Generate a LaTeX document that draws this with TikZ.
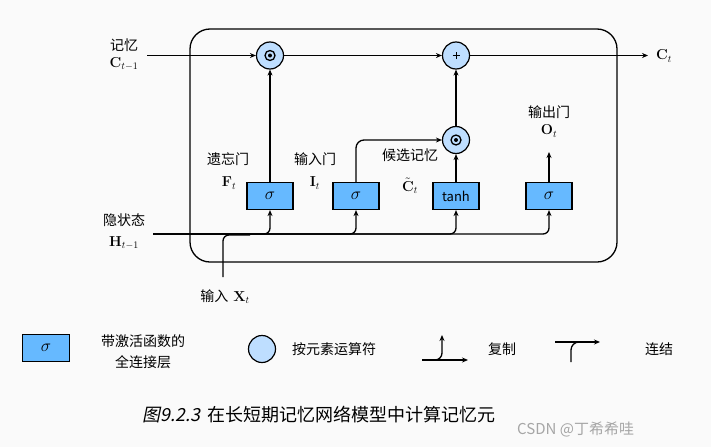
\documentclass[tikz,border=0pt]{standalone}
\usepackage[no-math]{fontspec}
\setmainfont{Noto Sans CJK SC}
\newfontfamily\capit[FakeSlant=0.2]{Noto Sans CJK SC}
\usetikzlibrary{arrows.meta}
\definecolor{gatefill}{RGB}{102,185,255}
\definecolor{opfill}{RGB}{190,222,255}
\definecolor{paper}{RGB}{250,250,250}
\tikzset{
	gate/.style={draw, line width=1.2pt, fill=gatefill, minimum width=46pt, minimum height=27pt, inner sep=0pt, font=\fontsize{16}{16}\selectfont},
	op/.style={draw, circle, line width=1.2pt, fill=opfill, minimum size=27pt, inner sep=0pt},
	opdot/.style={op, path picture={
		\draw[line width=1.3pt] (path picture bounding box.center) circle (5pt);
		\fill[black] (path picture bounding box.center) circle (2pt);}},
	opplus/.style={op, path picture={
		\draw[line width=1pt] ([xshift=-3.5pt]path picture bounding box.center) -- ([xshift=3.5pt]path picture bounding box.center);
		\draw[line width=1pt] ([yshift=-3.5pt]path picture bounding box.center) -- ([yshift=3.5pt]path picture bounding box.center);}},
	flow/.style={line width=1.3pt, -{Stealth[length=6pt,width=5pt]}},
	wire/.style={line width=1.3pt},
	lbl/.style={font=\fontsize{14}{21}\selectfont, inner sep=0pt},
}

\begin{document}
\begin{tikzpicture}[x=1pt,y=-1pt]
			%%%%% START %%%%%
			
			\fill[paper] (0,0) rectangle (711,447);
			\useasboundingbox (0,0) rectangle (711,447);
			
			\draw[wire, rounded corners=20pt] (190,29) rectangle (617,262);
			
			\node[opdot] (mulf) at (270,55.5) {};
			\node[opplus] (add) at (456,55.5) {};
			\node[opdot] (mulc) at (456,140) {};
			
			\node[gate] (fgate) at (270,196) {$\sigma$};
			\node[gate] (igate) at (356,196) {$\sigma$};
			\node[gate, font=\fontsize{13}{13}\selectfont] (cgate) at (456,196) {tanh};
			\node[gate] (ogate) at (549,196) {$\sigma$};
			
			\coordinate (cin) at (147,55.5);
			\coordinate (cout) at (648,55.5);
			\draw[flow] (cin) -- (mulf);
			\draw[flow] (mulf) -- (add);
			\draw[flow] (add) -- (cout);
			\draw[flow] (fgate) -- (mulf);
			\draw[flow, rounded corners=8pt] (igate) |- (mulc);
			\draw[flow] (cgate) -- (mulc);
			\draw[flow] (mulc) -- (add);
			\coordinate (oout) at (549,152);
			\draw[flow] (ogate) -- (oout);
			
			\coordinate (hin) at (153,234);
			\foreach \g in {fgate,igate,cgate,ogate}
				\draw[flow, rounded corners=6pt] (hin) -| (\g);
			\coordinate (xin) at (223,277);
			\coordinate (xjoin) at (250,235);
			\draw[wire, rounded corners=6pt] (xin) |- (xjoin);
			
			\node[lbl] (cprevtxt) at (124,45) {记忆};
			\node[lbl] (cprev) at (124,64) {$\mathbf{C}_{t-1}$};
			\node[lbl, anchor=west] (cnext) at (656,56) {$\mathbf{C}_t$};
			\node[lbl] (ftxt) at (228,159) {遗忘门};
			\node[lbl] (fsym) at (229,183) {$\mathbf{F}_t$};
			\node[lbl] (itxt) at (315,159) {输入门};
			\node[lbl] (isym) at (315,183) {$\mathbf{I}_t$};
			\node[lbl] (ctxt) at (410,155) {候选记忆};
			\node[lbl] (csym) at (410,186) {$\tilde{\mathbf{C}}_t$};
			\node[lbl] (otxt) at (549,112) {输出门};
			\node[lbl] (osym) at (549,131) {$\mathbf{O}_t$};
			\node[lbl] (htxt) at (124,220) {隐状态};
			\node[lbl] (hsym) at (124,243) {$\mathbf{H}_{t-1}$};
			\node[lbl] (xtxt) at (225,297) {输入\hspace{5pt}$\mathbf{X}_t$};
			
			%%%%% LEGEND %%%%%
			\node[gate, minimum width=47pt] (legate) at (46,348) {$\sigma$};
			\node[lbl, align=center] (legtxt) at (143,352) {带激活函数的\\全连接层};
			\node[op] (legop) at (262,349) {};
			\node[lbl, anchor=west] (legoptxt) at (292,349) {按元素运算符};
			
			\coordinate (cpa) at (422,360);
			\coordinate (cpb) at (468,360);
			\coordinate (cpc) at (430,360);
			\coordinate (cpd) at (442,335);
			\draw[flow] (cpa) -- (cpb);
			\draw[flow, rounded corners=7pt] (cpc) -| (cpd);
			\node[lbl] (copytxt) at (502,349) {复制};
			
			\coordinate (cta) at (555,342);
			\coordinate (ctb) at (600,342);
			\coordinate (ctc) at (571,362);
			\coordinate (ctd) at (585,342);
			\draw[flow] (cta) -- (ctb);
			\draw[wire, rounded corners=8pt] (ctc) |- (ctd);
			\node[lbl] (cattxt) at (659,349) {连结};
			
			\node[font=\fontsize{18}{18}\selectfont, anchor=west, inner sep=0pt] (caption) at (142,415) {{\capit 图9.2.3}\hspace{7pt}在长短期记忆网络模型中计算记忆元};
			\node[font=\fontsize{15}{15}\selectfont, text=black!35, anchor=west, inner sep=0pt] (mark) at (517,429) {CSDN @丁希希哇};
			
			%%%%% END %%%%%
\end{tikzpicture}
\end{document}
